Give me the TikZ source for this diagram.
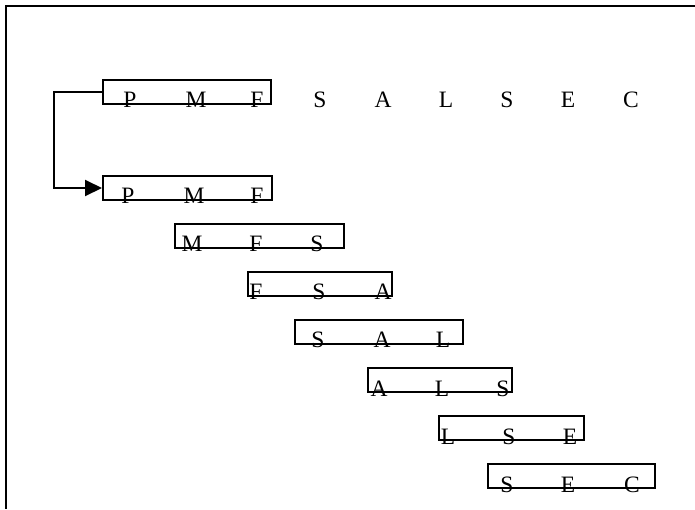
\documentclass[tikz,border=0pt]{standalone}
\usepackage{fontspec}
\setmainfont{Liberation Serif}
\usetikzlibrary{arrows.meta}
\begin{document}
\begin{tikzpicture}[x=1pt,y=-1pt,
  win/.style={draw, line width=2pt, anchor=north west, inner sep=0pt, minimum height=24pt},
  ch/.style={anchor=base, inner sep=0pt, font=\fontsize{23.5}{28}\selectfont},
  link/.style={line width=2pt, -{Triangle[length=17pt,width=16pt]}}]
\useasboundingbox (0,0) rectangle (695,509);
% open frame: top and left edges
\draw[line width=2pt] (695,6) -- (6,6) -- (6,509);

% full sequence
\foreach \c/\x [count=\i] in {P/130,M/196,F/257,S/320,A/383,L/446,S/507,E/568,C/631}
  \node[ch] (s\i) at (\x,107) {\c};

% sliding windows
\node[win, minimum width=168pt] (w1) at (102,79) {};
\node[win, minimum width=169pt] (w2) at (102,175) {};
\node[win, minimum width=169pt] (w3) at (174,223) {};
\node[win, minimum width=144pt] (w4) at (247,271) {};
\node[win, minimum width=168pt] (w5) at (294,319) {};
\node[win, minimum width=144pt] (w6) at (367,367) {};
\node[win, minimum width=145pt] (w7) at (438,415) {};
\node[win, minimum width=167pt] (w8) at (487,463) {};

% window contents
\node[ch] (a1) at (128,203) {P};
\node[ch] (a2) at (194,203) {M};
\node[ch] (a3) at (257,203) {F};

\node[ch] (b1) at (192,251) {M};
\node[ch] (b2) at (256,251) {F};
\node[ch] (b3) at (317,251) {S};

\node[ch] (c1) at (256,299) {F};
\node[ch] (c2) at (319,299) {S};
\node[ch] (c3) at (383,299) {A};

\node[ch] (d1) at (318,347) {S};
\node[ch] (d2) at (382,347) {A};
\node[ch] (d3) at (443,347) {L};

\node[ch] (e1) at (379,396) {A};
\node[ch] (e2) at (442,396) {L};
\node[ch] (e3) at (503,396) {S};

\node[ch] (f1) at (448,444) {L};
\node[ch] (f2) at (509,444) {S};
\node[ch] (f3) at (570,444) {E};

\node[ch] (g1) at (507,492) {S};
\node[ch] (g2) at (568,492) {E};
\node[ch] (g3) at (632,492) {C};

% first window copied down
\draw[link] (w1.west) -- ++(-48,0) |- (w2.west);
\end{tikzpicture}
\end{document}
